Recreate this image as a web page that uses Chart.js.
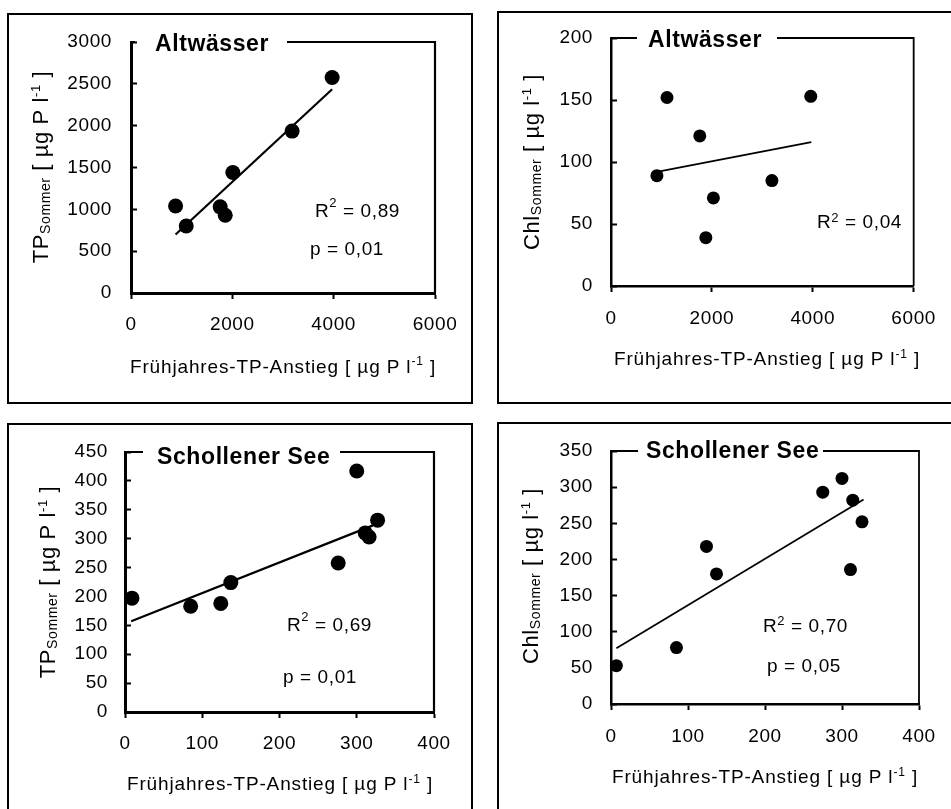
<!DOCTYPE html>
<html><head><meta charset="utf-8">
<script src="https://cdn.jsdelivr.net/npm/chart.js@4.4.0/dist/chart.umd.min.js"></script>
<style>
html,body{margin:0;padding:0;background:#fff;}
body{width:951px;height:809px;position:relative;overflow:hidden;}
canvas{position:absolute;}
.box{position:absolute;border:2.5px solid #000;box-sizing:border-box;pointer-events:none;}
</style></head><body>
<div class="box" style="left:7px;top:13px;width:466px;height:391px"></div>
<div class="box" style="left:497px;top:11px;width:470px;height:393px"></div>
<div class="box" style="left:7px;top:423px;width:466px;height:400px"></div>
<div class="box" style="left:497px;top:422px;width:470px;height:400px"></div>
<canvas id="c1" width="475" height="405" style="left:0px;top:0px"></canvas>
<canvas id="c2" width="475" height="405" style="left:476px;top:0px"></canvas>
<canvas id="c3" width="475" height="404" style="left:0px;top:405px"></canvas>
<canvas id="c4" width="475" height="404" style="left:476px;top:405px"></canvas>
<script>
// ---------- data ----------
// Altwässer: TP summer vs spring TP increase
const altTpX = [880, 1090, 1760, 1860, 2010, 3180, 3970];
const altTpY = [1040, 800, 1030, 930, 1440, 1935, 2575];
const altTpTrendX = [880, 3970];
const altTpTrendY = [700, 2435];
// Altwässer: Chl summer
const altChlX = [910, 1110, 1760, 1880, 2030, 3190, 3960];
const altChlY = [89, 152, 121, 39, 71, 85, 153];
const altChlTrendX = [910, 3970];
const altChlTrendY = [92, 116];
// Schollener See: TP summer
const schTpX = [9, 85, 124, 137, 276, 300, 311, 316, 327];
const schTpY = [197, 183, 188, 224, 258, 417, 310, 303, 332];
const schTpTrendX = [8, 321];
const schTpTrendY = [157, 323];
// Schollener See: Chl summer
const schChlX = [7, 85, 124, 137, 275, 300, 311, 314, 326];
const schChlY = [53, 78, 218, 180, 293, 312, 186, 282, 252];
const schChlTrendX = [7, 328];
const schChlTrendY = [77, 283];

// tick labels
const altXTicks = [0, 2000, 4000, 6000];
const altTpYTicks = [0, 500, 1000, 1500, 2000, 2500, 3000];
const altChlYTicks = [0, 50, 100, 150, 200];
const schXTicks = [0, 100, 200, 300, 400];
const schTpYTicks = [0, 50, 100, 150, 200, 250, 300, 350, 400, 450];
const schChlYTicks = [0, 50, 100, 150, 200, 250, 300, 350];

// texts
const titleAlt = 'Altwässer';
const titleSch = 'Schollener See';
const xTitleMain = 'Frühjahres-TP-Anstieg [ µg P l';
const r2Alt = [' = 0,89', ' = 0,04'];
const r2Sch = [' = 0,69', ' = 0,70'];
const pAlt = 'p = 0,01';
const pSchTp = 'p = 0,01';
const pSchChl = 'p = 0,05';

// ---------- drawing ----------
const FONT = '"Liberation Sans", Arial, Helvetica, sans-serif';
const LS = '0.6px';

function pts(xs, ys){ return xs.map((x,i)=>({x:x, y:ys[i]})); }

function drawRich(ctx, parts, x, y, align){
  let total = 0;
  const w = parts.map(p=>{ ctx.font = (p.bold?'bold ':'') + p.s + 'px ' + FONT; const m = ctx.measureText(p.t).width; total += m; return m; });
  let cx = align === 'center' ? x - total/2 : x;
  ctx.textAlign = 'left'; ctx.textBaseline = 'alphabetic';
  parts.forEach((p,i)=>{ ctx.font = (p.bold?'bold ':'') + p.s + 'px ' + FONT; ctx.fillText(p.t, cx, y + (p.dy||0)); cx += w[i]; });
}

function decor(P){
  return {
    id: 'decor',
    beforeUpdate(chart){ chart.ctx.letterSpacing = LS; },
    beforeDraw(chart){ chart.ctx.letterSpacing = LS; },
    beforeDatasetsDraw(chart){
      const ctx = chart.ctx, a = chart.chartArea;
      ctx.save();
      ctx.strokeStyle = '#000'; ctx.lineWidth = P.frameW;
      ctx.beginPath();
      ctx.moveTo(a.left, a.top); ctx.lineTo(P.gap[0], a.top);
      ctx.moveTo(P.gap[1], a.top); ctx.lineTo(a.right, a.top); ctx.lineTo(a.right, a.bottom);
      ctx.stroke();
      ctx.restore();
    },
    afterDraw(chart){
      const ctx = chart.ctx;
      ctx.save();
      ctx.fillStyle = '#000';
      ctx.letterSpacing = LS;
      drawRich(ctx, [{t:P.title, s:23, bold:true}], P.titleX, P.titleY, 'left');
      drawRich(ctx, [{t:'R', s:19}, {t:'2', s:13, dy:P.supDy}, {t:P.r2, s:19}], P.r2X, P.r2Y, 'left');
      if (P.p) drawRich(ctx, [{t:P.p, s:19}], P.pX, P.pY, 'left');
      ctx.letterSpacing = '0.85px';
      drawRich(ctx, [{t:xTitleMain, s:19}, {t:'-1', s:12, dy:-7.5}, {t:' ]', s:19}], P.xtX, P.xtY, 'center');
      ctx.letterSpacing = LS;
      ctx.translate(P.ytX, P.ytY);
      ctx.rotate(-Math.PI/2);
      drawRich(ctx, [{t:P.yMain, s:22}, {t:'Sommer', s:14, dy:2}, {t:P.yUnit, s:22}, {t:'-1', s:13, dy:-8.5}, {t:' ]', s:22}], 0, 0, 'center');
      ctx.restore();
    }
  };
}

function makeChart(id, P){
  const cv = document.getElementById(id);
  const W = cv.width, H = cv.height;
  return new Chart(cv.getContext('2d'), {
    type: 'scatter',
    data: { datasets: [
      { data: pts(P.xs, P.ys), pointRadius: P.r, pointBackgroundColor: '#000', pointBorderWidth: 0, pointBorderColor: '#000', showLine: false, clip: false },
      { data: pts(P.tx, P.ty), showLine: true, borderColor: '#000', borderWidth: P.lineW, pointRadius: 0, fill: false, clip: false }
    ]},
    options: {
      responsive: false, animation: false, devicePixelRatio: 1,
      plugins: { legend: {display:false}, tooltip: {enabled:false} },
      layout: { padding: { left: 0, top: P.area[1], right: W - P.area[2], bottom: 0 } },
      scales: {
        x: {
          type: 'linear', min: P.xTicks[0], max: P.xTicks[P.xTicks.length-1],
          afterBuildTicks: s => { s.ticks = P.xTicks.map(v=>({value:v})); },
          afterFit: s => { s.height = H - P.area[3]; },
          grid: { drawOnChartArea: false, tickLength: 6, tickWidth: 2, tickColor: '#000' },
          border: { color: '#000', width: P.axisW },
          ticks: { color: '#000', font: { family: FONT, size: 19 }, padding: P.xPad, maxRotation: 0, autoSkip: false, callback: v => String(v) }
        },
        y: {
          type: 'linear', min: P.yTicks[0], max: P.yTicks[P.yTicks.length-1],
          afterBuildTicks: s => { s.ticks = P.yTicks.map(v=>({value:v})); },
          afterFit: s => { s.width = P.area[0]; },
          grid: { drawOnChartArea: false, tickLength: -6, tickWidth: 2, tickColor: '#000' },
          border: { color: '#000', width: P.axisW },
          ticks: { color: '#000', font: { family: FONT, size: 19 }, padding: P.yPad, autoSkip: false, callback: v => String(v) }
        }
      }
    },
    plugins: [decor(P)]
  });
}

makeChart('c1', {
  xs: altTpX, ys: altTpY, tx: altTpTrendX, ty: altTpTrendY, xTicks: altXTicks, yTicks: altTpYTicks,
  area: [131, 42, 435, 293], r: 7.5, lineW: 2.2, axisW: 3, frameW: 2.2, xPad: 14, yPad: 25,
  title: titleAlt, titleX: 155, titleY: 51, gap: [135, 287],
  r2: r2Alt[0], r2X: 315, r2Y: 216.5, supDy: -10, p: pAlt, pX: 310, pY: 255,
  xtX: 283, xtY: 372.5, ytX: 48, ytY: 167, yMain: 'TP', yUnit: ' [ µg P l'
});
makeChart('c2', {
  xs: altChlX, ys: altChlY, tx: altChlTrendX, ty: altChlTrendY, xTicks: altXTicks, yTicks: altChlYTicks,
  area: [135, 38, 447, 286], r: 6.5, lineW: 1.7, axisW: 2.5, frameW: 1.8, xPad: 15, yPad: 24,
  title: titleAlt, titleX: 172, titleY: 47.3, gap: [161, 301],
  r2: r2Alt[1], r2X: 341, r2Y: 228.3, supDy: -6.5, p: null,
  xtX: 291, xtY: 365, ytX: 63, ytY: 162, yMain: 'Chl', yUnit: ' [ µg l'
});
makeChart('c3', {
  xs: schTpX, ys: schTpY, tx: schTpTrendX, ty: schTpTrendY, xTicks: schXTicks, yTicks: schTpYTicks,
  area: [125, 47, 434, 307], r: 7.5, lineW: 2.2, axisW: 3, frameW: 2.2, xPad: 14, yPad: 23,
  title: titleSch, titleX: 157, titleY: 59, gap: [143, 340],
  r2: r2Sch[0], r2X: 287, r2Y: 225.7, supDy: -10, p: pSchTp, pX: 283, pY: 277.7,
  xtX: 280, xtY: 385, ytX: 55, ytY: 177, yMain: 'TP', yUnit: ' [ µg P l'
});
makeChart('c4', {
  xs: schChlX, ys: schChlY, tx: schChlTrendX, ty: schChlTrendY, xTicks: schXTicks, yTicks: schChlYTicks,
  area: [135, 46, 443, 299], r: 6.5, lineW: 1.7, axisW: 2.5, frameW: 1.8, xPad: 15, yPad: 24,
  title: titleSch, titleX: 170, titleY: 53.3, gap: [162, 347],
  r2: r2Sch[1], r2X: 287, r2Y: 226.7, supDy: -6.5, p: pSchChl, pX: 291, pY: 266.7,
  xtX: 289, xtY: 378.3, ytX: 62, ytY: 171, yMain: 'Chl', yUnit: ' [ µg l'
});
</script>
</body></html>
